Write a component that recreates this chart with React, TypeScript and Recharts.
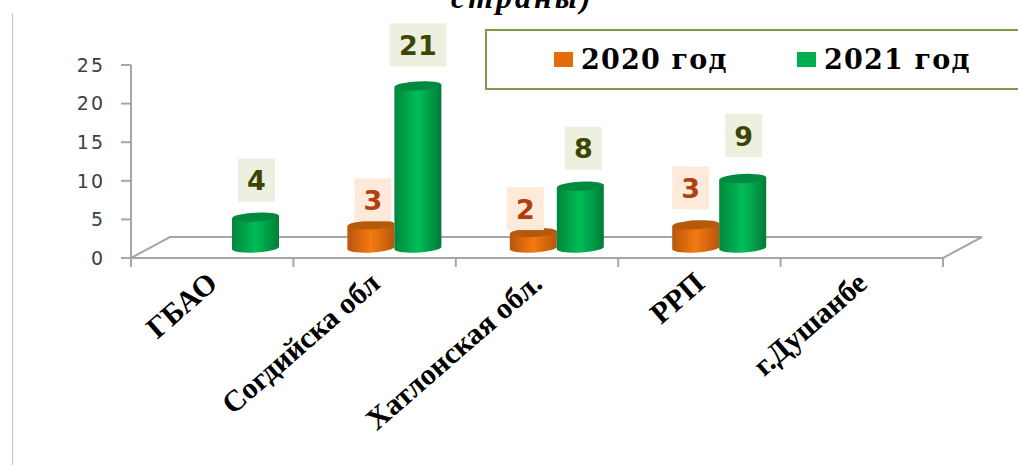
import { BarChart, Bar, XAxis, YAxis, Legend, LabelList, Customized } from "recharts";

const regions = ["ГБАО", "Согдийска обл", "Хатлонская обл.", "РРП", "г.Душанбе"];
const values2020 = [null, 3, 2, 3, null];
const values2021 = [4, 21, 8, 9, null];
const yTicks = [0, 5, 10, 15, 20, 25];

// how far each value box sits from its bar top (the source placed them by hand)
// LabelList skips empty values, so these only count the bars that are drawn
const lift2020 = [35, 34, 47];
const lift2021 = [47, 51, 48, 53];
const shift2020 = [2, -8, -5];
const shift2021 = [1, 0, 3, 1];

const data = regions.map((name, i) => ({ name, y2020: values2020[i], y2021: values2021[i] }));

const W = 1018;
const H = 465;
const LEFT = 131;
const RIGHT = 943;
const TOP = 65;
const BOTTOM = 258;
const BAND = (RIGHT - LEFT) / regions.length;
const AXIS = "#a6a6a6";

// fake 3D: bars stand on the floor, up and to the right of the axis
const DEPTH_X = 20;
const DEPTH_Y = 10;

function Cylinder(props: any) {
  const { x, y, width, height, value, grad, cap } = props;
  if (value == null || !height) return null;
  const left = x + DEPTH_X;
  const right = left + width;
  const top = y - DEPTH_Y;
  const base = top + height;
  const rx = width / 2;
  const ry = 4.5;
  const tilt = 1.5;
  return (
    <g>
      <path
        d={`M${left},${top + tilt} L${left},${base + tilt} A${rx},${ry} -3 0 0 ${right},${base - tilt} L${right},${top - tilt} Z`}
        fill={`url(#${grad})`}
      />
      <ellipse
        cx={left + rx}
        cy={top}
        rx={rx}
        ry={ry}
        fill={cap}
        transform={`rotate(-3 ${left + rx} ${top})`}
      />
    </g>
  );
}

function valueBox(lift: number[], shift: number[], bg: string, color: string) {
  return (props: any) => {
    const { x, y, width, value, index } = props;
    if (value == null) return null;
    const text = String(value);
    const boxW = text.length > 1 ? 57 : 37;
    const cx = x + DEPTH_X + width / 2 + shift[index];
    const cy = y - lift[index];
    return (
      <g>
        <rect x={cx - boxW / 2} y={cy - 21.5} width={boxW} height={43} fill={bg} />
        <text
          x={cx}
          y={cy + 10}
          textAnchor="middle"
          fontFamily="DejaVu Sans"
          fontWeight="bold"
          fontSize={27}
          fill={color}
        >
          {text}
        </text>
      </g>
    );
  };
}

function Floor() {
  const dx = 39;
  const dy = 21;
  return (
    <polyline
      points={`${LEFT},${BOTTOM} ${LEFT + dx},${BOTTOM - dy} ${RIGHT + dx},${BOTTOM - dy} ${RIGHT},${BOTTOM}`}
      fill="none"
      stroke={AXIS}
      strokeWidth={2}
    />
  );
}

function RegionTick(props: any) {
  const { x, y, payload, index } = props;
  const last = index === regions.length - 1;
  return (
    <g>
      <line x1={x - BAND / 2} y1={BOTTOM} x2={x - BAND / 2} y2={BOTTOM + 9} stroke={AXIS} strokeWidth={2} />
      {last && <line x1={x + BAND / 2} y1={BOTTOM} x2={x + BAND / 2} y2={BOTTOM + 9} stroke={AXIS} strokeWidth={2} />}
      <text
        x={x + 7}
        y={y + 20}
        textAnchor="end"
        transform={`rotate(-41 ${x + 7} ${y + 20})`}
        fontFamily="Liberation Serif"
        fontWeight="bold"
        fontSize={30}
        fill="#000"
      >
        {payload.value}
      </text>
    </g>
  );
}

function LegendBox({ payload }: any) {
  return (
    <div
      style={{
        boxSizing: "border-box",
        width: 540,
        height: 61,
        border: "2px solid #7f9a4a",
        background: "#fff",
        position: "relative",
      }}
    >
      {(payload || []).map((item: any, i: number) => (
        <div key={item.value} style={{ position: "absolute", left: 67 + i * 243, top: 0 }}>
          <span
            style={{
              position: "absolute",
              left: 0,
              top: 21,
              width: 19,
              height: 15,
              background: item.color,
            }}
          />
          <span
            style={{
              position: "absolute",
              left: 27,
              top: 13,
              whiteSpace: "nowrap",
              fontFamily: "DejaVu Serif",
              fontWeight: "bold",
              fontSize: 27,
              letterSpacing: 1.2,
              color: "#000",
            }}
          >
            {item.value}
          </span>
        </div>
      ))}
    </div>
  );
}

export default function App() {
  return (
    <div style={{ position: "absolute", left: 0, top: 0, width: W, height: H, overflow: "hidden", background: "#fff" }}>
      <div style={{ position: "absolute", left: 12, top: 13, width: 1, height: H, background: "#c4c4c4" }} />
      <div
        style={{
          position: "absolute",
          left: 451,
          top: -20,
          fontFamily: "Liberation Serif",
          fontWeight: "bold",
          fontStyle: "italic",
          fontSize: 32,
          letterSpacing: 3,
          lineHeight: "34px",
          whiteSpace: "nowrap",
        }}
      >
        страны)
      </div>
      <BarChart
        width={W}
        height={H}
        data={data}
        margin={{ top: TOP, right: W - RIGHT, bottom: 7, left: 0 }}
        barSize={47}
        barGap={0}
        style={{ position: "absolute", left: 0, top: 0 }}
      >
        <defs>
          <linearGradient id="orangeBody" x1="0" y1="0" x2="1" y2="0">
            <stop offset="0" stopColor="#b8560c" />
            <stop offset="0.5" stopColor="#f47a10" />
            <stop offset="1" stopColor="#b8560c" />
          </linearGradient>
          <linearGradient id="greenBody" x1="0" y1="0" x2="1" y2="0">
            <stop offset="0" stopColor="#00873c" />
            <stop offset="0.5" stopColor="#00bd58" />
            <stop offset="1" stopColor="#007c38" />
          </linearGradient>
        </defs>
        <Customized component={Floor} />
        <XAxis
          dataKey="name"
          height={200}
          interval={0}
          axisLine={{ stroke: AXIS, strokeWidth: 2 }}
          tickLine={false}
          tick={<RegionTick />}
        />
        <YAxis
          width={LEFT}
          domain={[0, 25]}
          ticks={yTicks}
          axisLine={{ stroke: AXIS, strokeWidth: 2 }}
          tickLine={{ stroke: AXIS, strokeWidth: 2 }}
          tickSize={10}
          tickMargin={16}
          tick={{ fontFamily: "DejaVu Sans", fontSize: 19, fill: "#404040", letterSpacing: 2 }}
        />
        <Legend
          layout="vertical"
          align="center"
          verticalAlign="middle"
          wrapperStyle={{ left: 485, top: 29, width: 540, height: 61 }}
          content={<LegendBox />}
        />
        <Bar
          dataKey="y2020"
          name="2020 год"
          fill="#e46c0a"
          isAnimationActive={false}
          shape={<Cylinder grad="orangeBody" cap="#b5590b" />}
        >
          <LabelList dataKey="y2020" content={valueBox(lift2020, shift2020, "#fdeada", "#b2400f")} />
        </Bar>
        <Bar
          dataKey="y2021"
          name="2021 год"
          fill="#00b050"
          isAnimationActive={false}
          shape={<Cylinder grad="greenBody" cap="#008a40" />}
        >
          <LabelList dataKey="y2021" content={valueBox(lift2021, shift2021, "#ebf1de", "#3f4500")} />
        </Bar>
      </BarChart>
    </div>
  );
}
